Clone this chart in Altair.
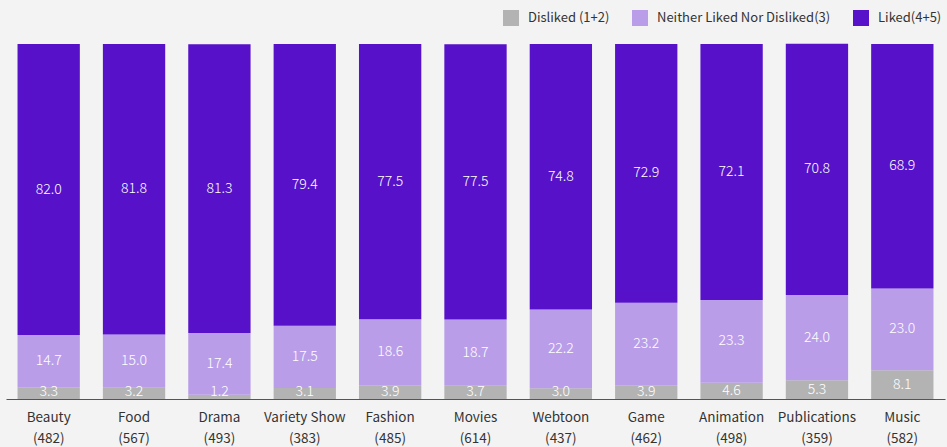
import altair as alt
import pandas as pd

categories = ["Beauty", "Food", "Drama", "Variety Show", "Fashion", "Movies",
              "Webtoon", "Game", "Animation", "Publications", "Music"]
counts = [482, 567, 493, 383, 485, 614, 437, 462, 498, 359, 582]
disliked = [3.3, 3.2, 1.2, 3.1, 3.9, 3.7, 3.0, 3.9, 4.6, 5.3, 8.1]
neither = [14.7, 15.0, 17.4, 17.5, 18.6, 18.7, 22.2, 23.2, 23.3, 24.0, 23.0]
liked = [82.0, 81.8, 81.3, 79.4, 77.5, 77.5, 74.8, 72.9, 72.1, 70.8, 68.9]

series = ["Disliked (1+2)", "Neither Liked Nor Disliked(3)", "Liked(4+5)"]
colors = ["#b3b3b3", "#b99de9", "#5611c9"]

rows = []
for i, c in enumerate(categories):
    lab = f"{c}\n({counts[i]})"
    for k, (s, vals) in enumerate(zip(series, [disliked, neither, liked])):
        rows.append({"cat": lab, "series": s, "order": k, "value": vals[i]})
df = pd.DataFrame(rows)
cat_labels = [f"{c}\n({counts[i]})" for i, c in enumerate(categories)]

base = alt.Chart(df).transform_stack(
    stack="value", groupby=["cat"], as_=["y0", "y1"],
    sort=[alt.SortField("order", order="ascending")]
).transform_calculate(
    mid="max((datum.y0 + datum.y1) / 2, 1.9)"
)

x = alt.X("cat:N", sort=cat_labels, title=None,
          scale=alt.Scale(paddingInner=0.27, paddingOuter=0.135),
          axis=alt.Axis(labelExpr="split(datum.label, '\\n')", labelAngle=0,
                        ticks=False, domainColor="#555555", domainWidth=1,
                        labelFont="Noto Sans CJK KR", labelFontSize=13.5,
                        labelColor="#333333", labelPadding=11, labelLineHeight=21))

bars = base.mark_bar().encode(
    x=x,
    y=alt.Y("y0:Q", scale=alt.Scale(domain=[0, 100], nice=False), axis=None),
    y2="y1:Q",
    color=alt.Color("series:N", sort=series,
                    scale=alt.Scale(domain=series, range=colors),
                    legend=alt.Legend(title=None, orient="none", direction="horizontal",
                                      legendX=497, legendY=-34,
                                      symbolType="square", symbolSize=256,
                                      symbolStrokeWidth=0, symbolOpacity=1,
                                      labelFont="Noto Sans CJK KR", labelFontSize=13,
                                      labelLimit=0,
                                      labelColor="#333333", labelOffset=9,
                                      columnPadding=22)),
)

labels = base.mark_text(color="white", font="Noto Sans CJK KR", fontSize=14,
                        fontWeight=300, baseline="middle").encode(
    x=alt.X("cat:N", sort=cat_labels),
    y=alt.Y("mid:Q"),
    text=alt.Text("value:Q", format=".1f"),
)

chart = alt.layer(bars, labels).properties(
    width=939, height=355,
    padding={"left": 6, "top": 44, "right": 2, "bottom": 48},
    autosize=alt.AutoSizeParams(type="none"),
    background="#f3f3f3",
).configure_view(stroke=None)

chart.save("out.html", embed_options={"renderer": "svg", "actions": False})
